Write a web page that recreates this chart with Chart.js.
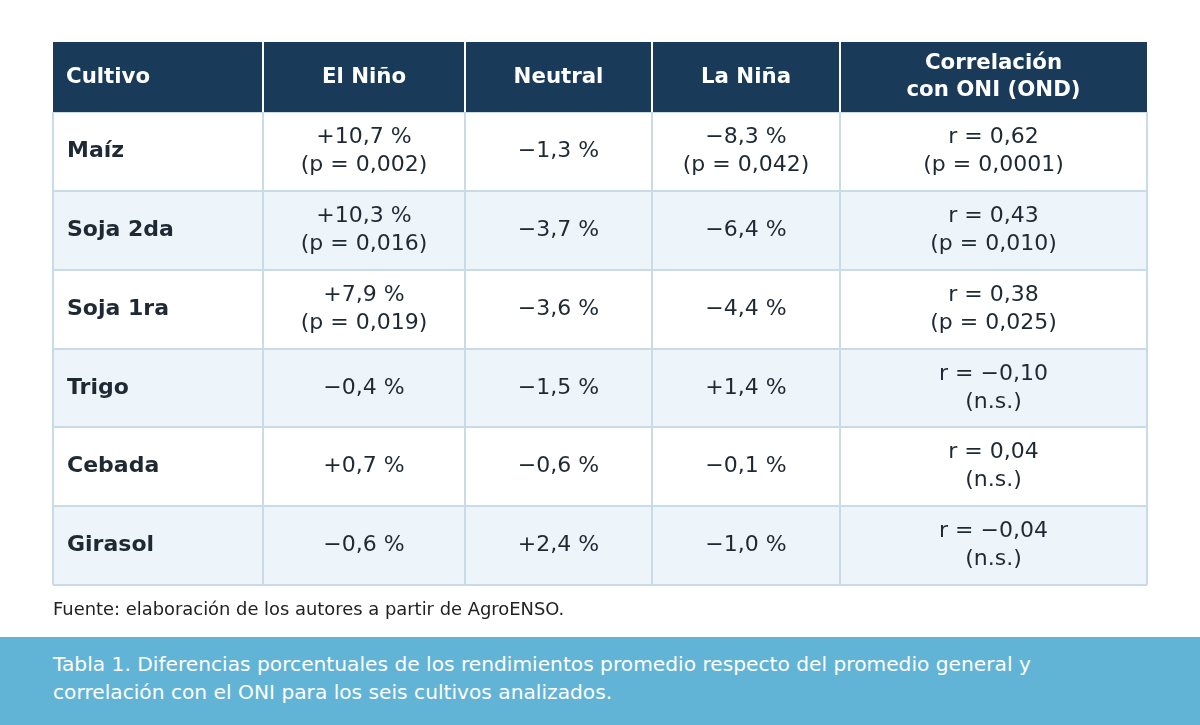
<!DOCTYPE html>
<html lang="es">
<head>
<meta charset="utf-8">
<script src="https://cdn.jsdelivr.net/npm/chart.js@4.4.1/dist/chart.umd.min.js"></script>
<style>
  html, body { margin: 0; padding: 0; background: #ffffff; }
  #wrap { position: relative; width: 1200px; height: 725px; overflow: hidden; font-family: 'DejaVu Sans', sans-serif; }
  #chart { position: absolute; left: 0; top: 0; width: 1200px; height: 725px; }
  #note { position: absolute; left: 53px; top: 598px; font-size: 17.9px; line-height: 22px; color: #222222; }
  #caption { position: absolute; left: 0; top: 637px; width: 1200px; height: 88px; background: #62b4d6; color: #ffffff;
             box-sizing: border-box; padding: 13px 53px 0 53px; font-size: 20.2px; line-height: 28px; }
</style>
</head>
<body>
<div id="wrap">
  <canvas id="chart" width="1200" height="725"></canvas>
  <div id="note">Fuente: elaboración de los autores a partir de AgroENSO.</div>
  <div id="caption">Tabla 1. Diferencias porcentuales de los rendimientos promedio respecto del promedio general y<br>correlación con el ONI para los seis cultivos analizados.</div>
</div>
<script>
// ---- Data ----
const headers = ['Cultivo', 'El Niño', 'Neutral', 'La Niña', 'Correlación\ncon ONI (OND)'];
const crops = ['Maíz', 'Soja 2da', 'Soja 1ra', 'Trigo', 'Cebada', 'Girasol'];
const elNinoPct = [10.7, 10.3, 7.9, -0.4, 0.7, -0.6];
const elNinoP = ['0,002', '0,016', '0,019', null, null, null];
const neutralPct = [-1.3, -3.7, -3.6, -1.5, -0.6, 2.4];
const neutralP = [null, null, null, null, null, null];
const laNinaPct = [-8.3, -6.4, -4.4, 1.4, -0.1, -1.0];
const laNinaP = ['0,042', null, null, null, null, null];
const corrR = [0.62, 0.43, 0.38, -0.10, 0.04, -0.04];
const corrP = ['0,0001', '0,010', '0,025', 'n.s.', 'n.s.', 'n.s.'];

// ---- Layout / style ----
const colWidths = [210, 202, 187, 188, 307];
const HEADER_H = 70;
const NAVY = '#1a3a5a';
const ROW_ALT = '#edf5fb';
const GRID = '#c9dbe6';
const TEXT = '#1f2933';
const FONT = "'DejaVu Sans', sans-serif";

const fmtNum = (v, d) => (v < 0 ? '\u2212' : '') + Math.abs(v).toFixed(d).replace('.', ',');
const fmtPct = v => (v > 0 ? '+' : (v < 0 ? '\u2212' : '')) + Math.abs(v).toFixed(1).replace('.', ',') + ' %';
const pLine = p => p == null ? null : (p === 'n.s.' ? '(n.s.)' : '(p = ' + p + ')');

function cellLines(col, row) {
  if (col === 0) return [crops[row]];
  const pctArr = [null, elNinoPct, neutralPct, laNinaPct][col];
  const pArr = [null, elNinoP, neutralP, laNinaP][col];
  if (col === 4) return ['r = ' + fmtNum(corrR[row], 2), pLine(corrP[row])];
  const l = [fmtPct(pctArr[row])];
  const pl = pLine(pArr[row]);
  if (pl) l.push(pl);
  return l;
}

const bounds = [0];
colWidths.forEach(w => bounds.push(bounds[bounds.length - 1] + w));
const total = bounds[bounds.length - 1];

const datasets = colWidths.map((w, c) => ({
  label: headers[c],
  data: crops.map(() => [bounds[c], bounds[c + 1]]),
  backgroundColor: crops.map((_, r) => r % 2 === 1 ? ROW_ALT : '#ffffff'),
  borderWidth: 0,
  barPercentage: 1,
  categoryPercentage: 1,
  grouped: false
}));

const tablePlugin = {
  id: 'tableText',
  afterDatasetsDraw(chart) {
    const ctx = chart.ctx;
    ctx.save();
    ctx.textBaseline = 'middle';
    ctx.fillStyle = TEXT;
    chart.data.datasets.forEach((ds, c) => {
      const meta = chart.getDatasetMeta(c);
      meta.data.forEach((bar, r) => {
        const lines = cellLines(c, r);
        const left = Math.min(bar.x, bar.base);
        const right = Math.max(bar.x, bar.base);
        if (c === 0) {
          ctx.font = 'bold 22px ' + FONT;
          ctx.textAlign = 'left';
          ctx.fillText(lines[0], left + 13, bar.y);
        } else {
          ctx.font = '22px ' + FONT;
          ctx.textAlign = 'center';
          const cx = (left + right) / 2;
          const n = lines.length;
          lines.forEach((t, i) => {
            ctx.fillText(t, cx, bar.y + (i - (n - 1) / 2) * 28);
          });
        }
      });
    });
    ctx.restore();
  },
  afterDraw(chart) {
    const ctx = chart.ctx;
    const xs = chart.scales.x;
    const area = chart.chartArea;
    const top = area.top - HEADER_H;
    ctx.save();
    ctx.fillStyle = NAVY;
    ctx.fillRect(area.left, top, area.right - area.left, HEADER_H);
    ctx.strokeStyle = '#ffffff';
    ctx.lineWidth = 2;
    for (let i = 1; i < bounds.length - 1; i++) {
      const px = xs.getPixelForValue(bounds[i]);
      ctx.beginPath();
      ctx.moveTo(px, top);
      ctx.lineTo(px, area.top);
      ctx.stroke();
    }
    ctx.fillStyle = '#ffffff';
    ctx.font = 'bold 21.3px ' + FONT;
    ctx.textBaseline = 'middle';
    const cy = top + HEADER_H / 2;
    headers.forEach((h, c) => {
      const l = xs.getPixelForValue(bounds[c]);
      const r = xs.getPixelForValue(bounds[c + 1]);
      const lines = h.split('\n');
      const n = lines.length;
      lines.forEach((t, i) => {
        const y = cy + (i - (n - 1) / 2) * 27;
        if (c === 0) { ctx.textAlign = 'left'; ctx.fillText(t, l + 13, y); }
        else { ctx.textAlign = 'center'; ctx.fillText(t, (l + r) / 2, y); }
      });
    });
    ctx.restore();
  }
};

new Chart(document.getElementById('chart'), {
  type: 'bar',
  data: { labels: crops, datasets },
  options: {
    indexAxis: 'y',
    responsive: false,
    animation: false,
    devicePixelRatio: 1,
    layout: { padding: { top: 112, left: 53, right: 53, bottom: 140 } },
    plugins: { legend: { display: false }, tooltip: { enabled: false }, title: { display: false } },
    scales: {
      x: {
        type: 'linear', min: 0, max: total,
        afterBuildTicks: s => { s.ticks = bounds.map(v => ({ value: v })); },
        ticks: { display: false, padding: 0 },
        grid: { color: GRID, lineWidth: 2, drawTicks: false, tickLength: 0, z: 1 },
        border: { display: false }
      },
      y: {
        type: 'category', offset: true,
        ticks: { display: false, padding: 0 },
        grid: { color: GRID, lineWidth: 2, drawTicks: false, tickLength: 0, offset: true, z: 1 },
        border: { display: false }
      }
    }
  },
  plugins: [tablePlugin]
});
</script>
</body>
</html>
